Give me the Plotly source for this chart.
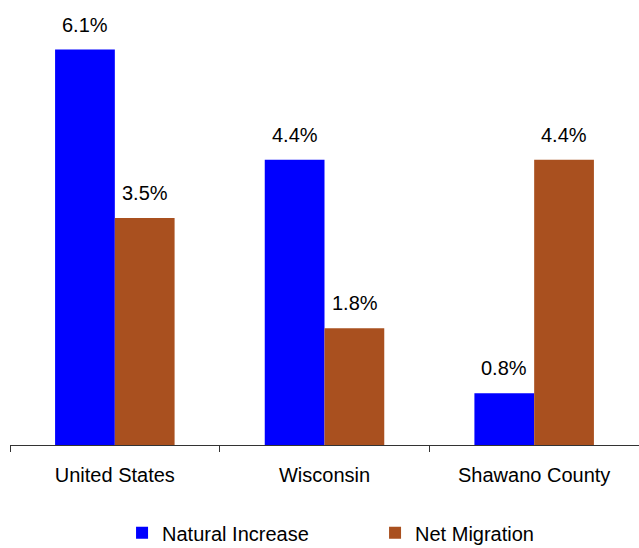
import plotly.graph_objects as go

categories = ["United States", "Wisconsin", "Shawano County"]
natural_increase = [6.1, 4.4, 0.8]
net_migration = [3.5, 1.8, 4.4]
series_names = ["Natural Increase", "Net Migration"]
colors = ["#0000FF", "#A9501F"]

FONT = "Liberation Sans, Arial"

fig = go.Figure()
for name, vals, col in zip(series_names, [natural_increase, net_migration], colors):
    fig.add_trace(go.Bar(
        x=categories, y=vals, name=name,
        marker=dict(color=col, line=dict(width=0)),
    ))

# value labels above each bar
for vals, shift in [(natural_increase, -30), (net_migration, 30)]:
    for cat, v in zip(categories, vals):
        fig.add_annotation(
            x=cat, y=v, text=f"{v:.1f}%", showarrow=False,
            xshift=shift, yshift=25,
            font=dict(family=FONT, size=20, color="#000"),
        )

fig.update_layout(
    width=639, height=548,
    margin=dict(l=10, r=0, t=10, b=103, autoexpand=False),
    paper_bgcolor="white", plot_bgcolor="white",
    barmode="group", bargap=0.43, bargroupgap=0,
    font=dict(family=FONT, size=20, color="#000"),
    showlegend=True,
    legend=dict(
        orientation="h", xref="container", x=0.191, xanchor="left",
        yref="paper", y=-0.202, yanchor="middle",
        font=dict(size=20), entrywidth=208, entrywidthmode="pixels",
    ),
    xaxis=dict(
        showline=True, linecolor="#333", linewidth=1,
        ticks="outside", tickson="boundaries", ticklen=6, tickcolor="#333",
        ticklabelstandoff=12, showgrid=False, automargin=False,
    ),
    yaxis=dict(visible=False, range=[0, 6.71], showgrid=False),
)

fig.write_html("out.html")
